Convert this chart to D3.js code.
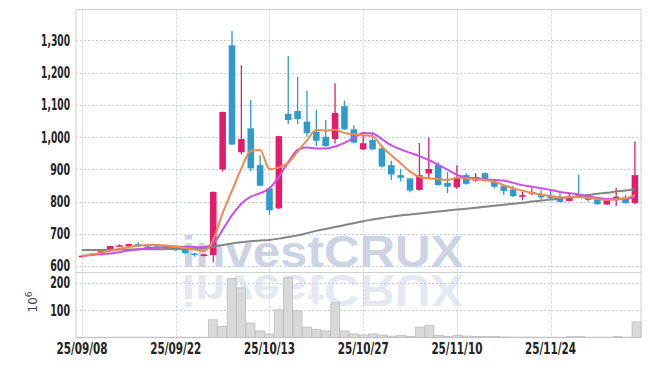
<!DOCTYPE html>
<html><head><meta charset="utf-8">
<script src="https://cdn.jsdelivr.net/npm/d3@7"></script>
<style>body{margin:0;background:#fff;} svg{display:block}</style>
</head><body><svg id="c" width="650" height="366"></svg>
<script>
const dates = ["25/09/08","25/09/09","25/09/10","25/09/11","25/09/12","25/09/15","25/09/16","25/09/17","25/09/18","25/09/19",
"25/09/22","25/09/23","25/09/24","25/09/25","25/09/26","25/09/29","25/09/30","25/10/01","25/10/02","25/10/10",
"25/10/13","25/10/14","25/10/15","25/10/16","25/10/17","25/10/20","25/10/21","25/10/22","25/10/23","25/10/24",
"25/10/27","25/10/28","25/10/29","25/10/30","25/10/31","25/11/03","25/11/04","25/11/05","25/11/06","25/11/07",
"25/11/10","25/11/11","25/11/12","25/11/13","25/11/14","25/11/17","25/11/18","25/11/19","25/11/20","25/11/21",
"25/11/24","25/11/25","25/11/26","25/11/27","25/11/28","25/12/01","25/12/02","25/12/03","25/12/04","25/12/05"];
const open  = [628,638,647,650,662,661,668,661,661,663,654,650,639,631,634,900,1285,953,1027,913,841,779,1072,1081,1048,1017,1001,994,1096,1024,962,991,965,913,882,872,836,887,913,858,844,882,865,888,861,848,838,815,825,820,817,813,802,820,820,807,791,807,813,795];
const high  = [633,640,650,663,667,669,674,662,663,664,656,651,640,637,831,1079,1329,1223,1115,944,842,1004,1252,1187,1144,1084,1053,1167,1113,1037,1011,1016,975,927,900,873,982,999,922,892,913,889,888,890,870,852,848,830,841,836,838,826,830,884,822,808,808,843,820,986];
const low   = [627,634,640,649,660,660,660,653,656,660,646,638,629,630,612,893,975,946,893,848,758,777,1040,1040,1001,972,970,980,1022,980,960,960,906,867,862,829,834,869,850,826,839,852,862,862,841,820,813,804,820,806,808,797,801,812,800,790,790,786,793,792];
const close = [632,636,645,662,664,668,661,659,659,661,652,640,637,636,830,1078,977,994,903,849,773,1003,1053,1056,1012,989,972,1075,1024,983,981,962,909,884,874,834,882,901,851,846,874,855,876,865,846,833,817,820,830,813,810,799,815,815,805,792,807,815,795,882];
const volume = [1,1,1,1,1,1,1,1,1,1,1,1,1,1,65,40,216,182,53,24,13,102,219,98,38,30,24,127,24,13,9,13,9,5,8,4,38,45,8,4,8,5,4,4,4,2,1.5,1.5,1.5,1,1,1,3,3,1,1,1,3,1,57];
const ma5  = [631,635,641,647,653,659,663,665,665,664,661,656,651,647,681,764,834,903,957,960,900,906,920,955,990,1023,1020,1023,1013,1009,1006,1003,970,944,919,893,877,872,869,867,874,872,869,867,861,851,841,834,827,822,817,813,813,813,812,808,805,807,810,820];
const ma10 = [631,634,637,639,643,648,652,655,657,659,660,660,659,658,670,712,758,793,815,826,841,877,922,960,968,965,965,971,982,997,1013,1011,994,974,962,951,941,929,914,899,883,875,872,869,867,865,858,851,846,841,836,830,826,822,817,812,808,807,808,815];
const ma60 = [650,650,650,650.5,651,651,651.5,652,652,652.5,653,653,653.5,654,660,665,670,674,677,679,681,685,690,695,702,709,715,721,727,733,739,744,749,753,757,760,763,766,769,772,775,778,781,784,787,790,793,796,800,803,806,810,813,816,820,824,827,831,834,838];
const priceTicks = [600,700,800,900,1000,1100,1200,1300];
const volTicks = [100,200];
const dateTickIdx = [0,10,20,30,40,50];

const svg = d3.select("#c");
const L = 76, R = 641, T = 9.5, SEP = 272, B = 337.5;
const idx = d3.range(dates.length);
const x = d3.scaleBand().domain(idx).range([L, R]).padding(0.3);
const xv = d3.scaleBand().domain(idx).range([L, R]).padding(0);
const cx = i => x(i) + x.bandwidth() / 2;
const y = d3.scaleLinear().domain([581.4, 1396]).range([SEP, T]);
const yv = d3.scaleLinear().domain([0, 240]).range([B, SEP]);

const UP = "#e31d6b", DOWN = "#2e9bcc";
const gridC = "#c6ccda";
const font = "'DejaVu Sans Condensed', 'Liberation Sans Narrow', sans-serif";

// watermark
const wm = svg.append("g");
wm.append("text").attr("x", 181.5).attr("y", 266.7).text("investCRUX")
  .attr("font-family", "'Liberation Sans', Arial, sans-serif").attr("font-weight", "bold")
  .attr("font-size", 45).attr("fill", "#ccd3e4").attr("textLength", 282).attr("lengthAdjust", "spacingAndGlyphs");
wm.append("text").attr("x", 181.5).attr("y", 266.7).text("investCRUX")
  .attr("transform", "translate(0," + (2 * 271) + ") scale(1,-1)")
  .attr("font-family", "'Liberation Sans', Arial, sans-serif").attr("font-weight", "bold")
  .attr("font-size", 45).attr("fill", "#e5e8f0").attr("textLength", 282).attr("lengthAdjust", "spacingAndGlyphs");

// grid
const g = svg.append("g");
g.selectAll(".hg").data(priceTicks).join("line")
  .attr("x1", L).attr("x2", R).attr("y1", d => Math.round(y(d)) + 0.5).attr("y2", d => Math.round(y(d)) + 0.5)
  .attr("stroke", gridC).attr("stroke-dasharray", "2,2");
g.selectAll(".vg").data(volTicks).join("line")
  .attr("x1", L).attr("x2", R).attr("y1", d => Math.round(yv(d)) + 0.5).attr("y2", d => Math.round(yv(d)) + 0.5)
  .attr("stroke", gridC).attr("stroke-dasharray", "2,2");
g.selectAll(".xg").data(dateTickIdx).join("line")
  .attr("x1", d => Math.round(cx(d)) + 0.5).attr("x2", d => Math.round(cx(d)) + 0.5).attr("y1", T).attr("y2", B)
  .attr("stroke", gridC).attr("stroke-dasharray", "2,2");

// frame
const fr = svg.append("g").attr("stroke", "#cfcfcf").attr("fill", "none");
fr.append("line").attr("x1", L).attr("x2", R).attr("y1", T).attr("y2", T);
fr.append("line").attr("x1", L).attr("x2", L).attr("y1", T).attr("y2", B);
fr.append("line").attr("x1", R).attr("x2", R).attr("y1", T).attr("y2", B);
fr.append("line").attr("x1", L).attr("x2", R).attr("y1", SEP + 0.5).attr("y2", SEP + 0.5);
fr.append("line").attr("x1", L).attr("x2", R).attr("y1", B).attr("y2", B);

// volume bars
svg.append("g").selectAll("rect").data(idx).join("rect")
  .attr("x", i => xv(i) + 0.5).attr("width", xv.bandwidth() - 0.5)
  .attr("y", i => yv(volume[i])).attr("height", i => B - yv(volume[i]))
  .attr("fill", "#d9d9d9").attr("stroke", "#bdbdbd").attr("stroke-width", 0.8);

// candles
const cg = svg.append("g");
cg.selectAll("line").data(idx).join("line")
  .attr("x1", cx).attr("x2", cx).attr("y1", i => y(high[i])).attr("y2", i => y(low[i]))
  .attr("stroke", i => close[i] >= open[i] ? UP : DOWN).attr("stroke-width", 1.3);
cg.selectAll("rect").data(idx).join("rect")
  .attr("x", i => x(i)).attr("width", x.bandwidth())
  .attr("y", i => y(Math.max(open[i], close[i])))
  .attr("height", i => Math.max(1.5, Math.abs(y(open[i]) - y(close[i]))))
  .attr("fill", i => close[i] >= open[i] ? UP : DOWN);

// moving averages
const line = arr => d3.line().x(i => cx(i)).y(i => y(arr[i])).curve(d3.curveMonotoneX)(idx);
svg.append("path").attr("d", line(ma60)).attr("fill", "none").attr("stroke", "#858585").attr("stroke-width", 2);
svg.append("path").attr("d", line(ma10)).attr("fill", "none").attr("stroke", "#c94fe6").attr("stroke-width", 2);
svg.append("path").attr("d", line(ma5)).attr("fill", "none").attr("stroke", "#ee8a4f").attr("stroke-width", 2);

// axes labels (narrow display face emulated by fitting each label to its width)
const numWidth = s => s.replace(/[^0-9]/g, "").length * 6.6 + (s.split(",").length - 1) * 2.5;
const ax = svg.append("g").attr("font-family", font).attr("font-weight", "bold").attr("font-size", 15).attr("fill", "#222");
ax.selectAll(".pl").data(priceTicks).join("text")
  .attr("x", 70).attr("y", d => y(d)).attr("dy", "0.36em").attr("text-anchor", "end")
  .text(d => d3.format(",")(d))
  .attr("textLength", d => numWidth(d3.format(",")(d))).attr("lengthAdjust", "spacingAndGlyphs");
ax.selectAll(".vl").data(volTicks).join("text")
  .attr("x", 70).attr("y", d => yv(d)).attr("dy", "0.36em").attr("text-anchor", "end")
  .text(d => d)
  .attr("textLength", d => numWidth(String(d))).attr("lengthAdjust", "spacingAndGlyphs");
ax.selectAll(".xl").data(dateTickIdx).join("text")
  .attr("x", d => cx(d)).attr("y", 354).attr("text-anchor", "middle")
  .text(d => dates[d])
  .attr("textLength", 51).attr("lengthAdjust", "spacingAndGlyphs");

const ul = svg.append("text").attr("transform", "translate(37,302) rotate(-90)")
  .attr("text-anchor", "middle").attr("font-family", "'DejaVu Sans', sans-serif").attr("font-size", 12).attr("fill", "#444");
ul.append("tspan").text("10");
ul.append("tspan").attr("dy", -5).attr("font-size", 9).text("6");
</script>
</body></html>
